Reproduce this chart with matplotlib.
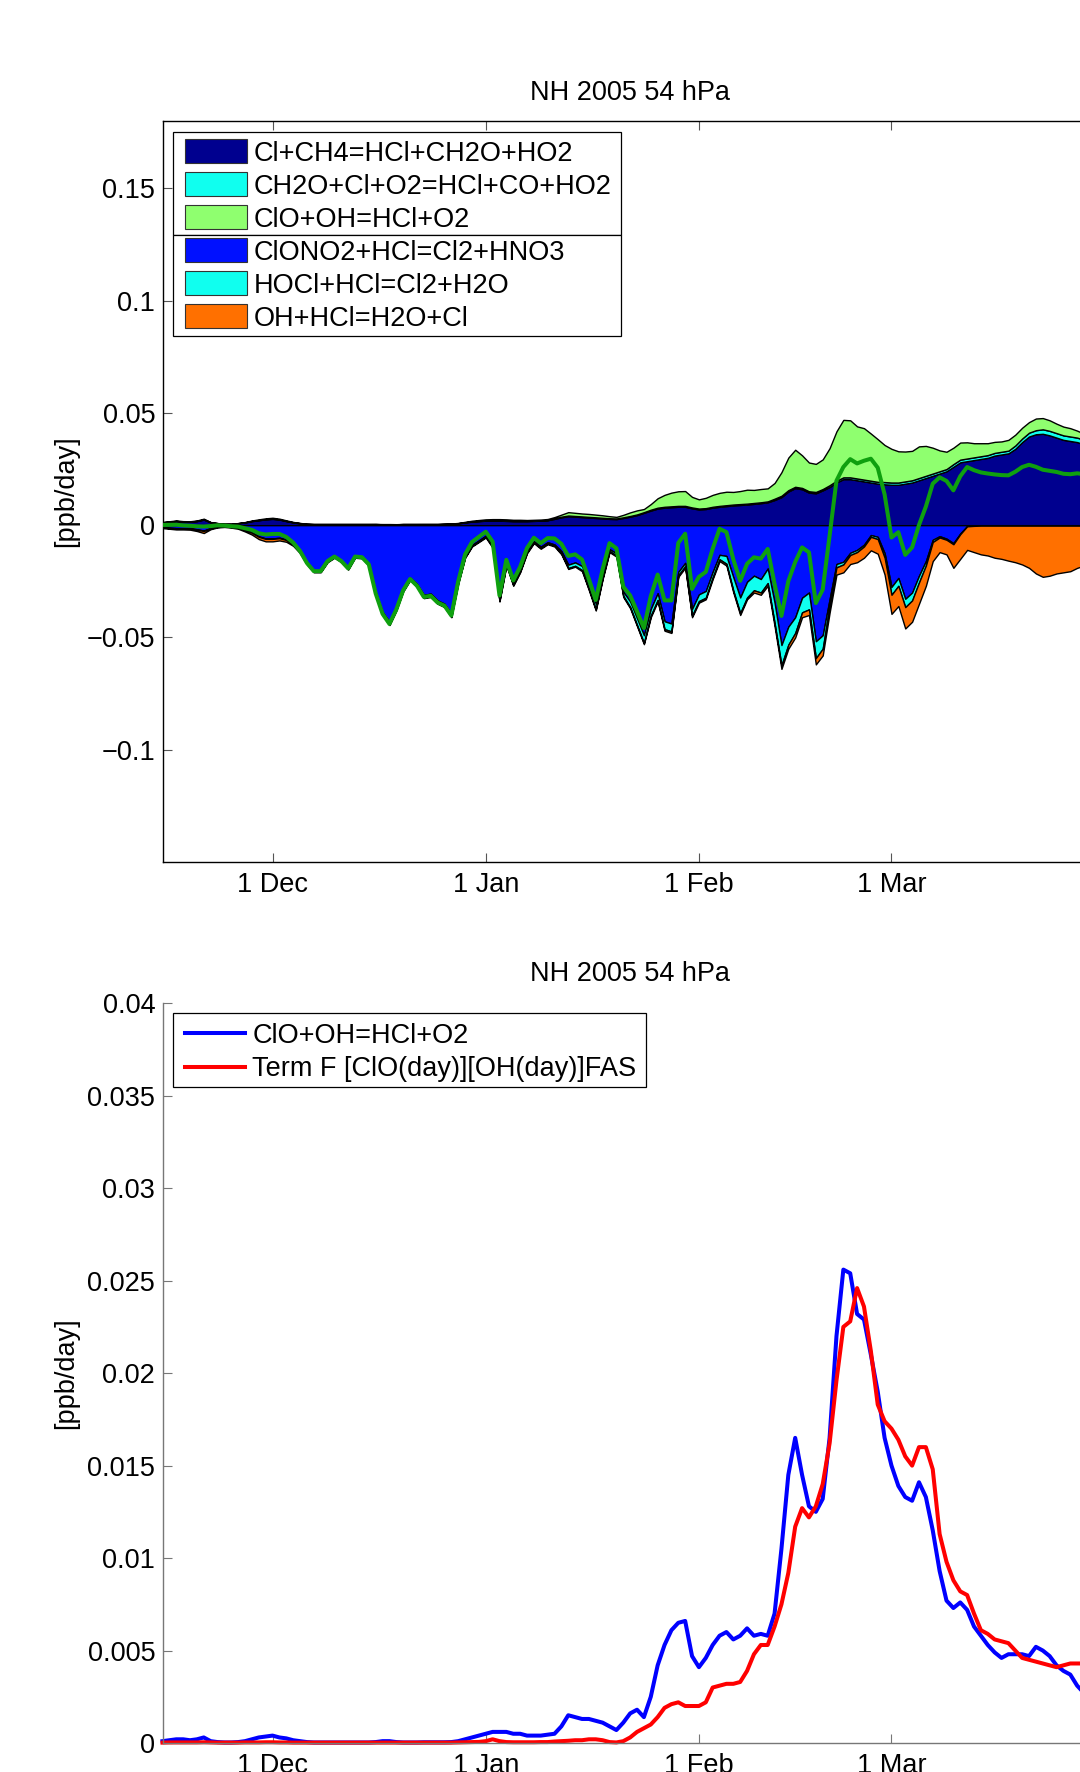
import numpy as np
import pandas as pd
import matplotlib
matplotlib.use("Agg")
import matplotlib.pyplot as plt
from matplotlib.patches import Rectangle
from matplotlib.lines import Line2D

plt.rcParams['font.family'] = ['Liberation Sans', 'DejaVu Sans']
plt.rcParams['axes.unicode_minus'] = True

# ---------------- data (daily, 15 Nov 2004 .. 31 Mar 2005) ----------------
dates = pd.date_range('2004-11-15', '2005-03-31', freq='D')

# HCl production terms [ppb/day]
cl_ch4 = [
    0.0012, 0.0015, 0.0018, 0.0015, 0.0015, 0.0018, 0.0025, 0.0012, 0.0008, 0.0005,
    0.0005, 0.0008, 0.0012, 0.0018, 0.0022, 0.0026, 0.0028, 0.0025, 0.0018, 0.0012,
    0.0008, 0.0005, 0.0004, 0.0004, 0.0004, 0.0004, 0.0004, 0.0004, 0.0004, 0.0004,
    0.0004, 0.0004, 0.0003, 0.0003, 0.0003, 0.0004, 0.0004, 0.0004, 0.0004, 0.0004,
    0.0004, 0.0005, 0.0006, 0.0008, 0.0012, 0.0016, 0.0018, 0.0020, 0.0020, 0.0020,
    0.0019, 0.0018, 0.0018, 0.0018, 0.0019, 0.0020, 0.0022, 0.0028, 0.0035, 0.0040,
    0.0038, 0.0036, 0.0034, 0.0032, 0.0030, 0.0028, 0.0027, 0.0032, 0.0038, 0.0045,
    0.0055, 0.0065, 0.0074, 0.0078, 0.0080, 0.0082, 0.0082, 0.0075, 0.0070, 0.0072,
    0.0078, 0.0082, 0.0085, 0.0088, 0.0090, 0.0092, 0.0095, 0.0098, 0.0102, 0.0112,
    0.0125, 0.0150, 0.0165, 0.0160, 0.0145, 0.0142, 0.0155, 0.0170, 0.0190, 0.0205,
    0.0205, 0.0200, 0.0195, 0.0190, 0.0185, 0.0182, 0.0180, 0.0180, 0.0185, 0.0190,
    0.0200, 0.0210, 0.0220, 0.0230, 0.0240, 0.0260, 0.0280, 0.0285, 0.0290, 0.0295,
    0.0300, 0.0310, 0.0315, 0.0320, 0.0340, 0.0370, 0.0395, 0.0405, 0.0407, 0.0400,
    0.0390, 0.0380, 0.0375, 0.0370, 0.0360, 0.0355, 0.0350]

ch2o_cl = [
    0.0001, 0.0001, 0.0001, 0.0001, 0.0001, 0.0001, 0.0001, 0.0001, 0.0001, 0.0001,
    0.0001, 0.0001, 0.0001, 0.0001, 0.0001, 0.0001, 0.0001, 0.0001, 0.0001, 0.0001,
    0.0001, 0.0001, 0.0001, 0.0001, 0.0001, 0.0001, 0.0001, 0.0001, 0.0001, 0.0001,
    0.0001, 0.0001, 0.0001, 0.0001, 0.0001, 0.0001, 0.0001, 0.0001, 0.0001, 0.0001,
    0.0001, 0.0001, 0.0001, 0.0001, 0.0001, 0.0001, 0.0001, 0.0001, 0.0001, 0.0001,
    0.0001, 0.0001, 0.0001, 0.0001, 0.0001, 0.0001, 0.0001, 0.0003, 0.0003, 0.0003,
    0.0003, 0.0003, 0.0003, 0.0003, 0.0003, 0.0003, 0.0003, 0.0003, 0.0003, 0.0003,
    0.0003, 0.0004, 0.0004, 0.0004, 0.0004, 0.0004, 0.0004, 0.0004, 0.0004, 0.0004,
    0.0004, 0.0004, 0.0004, 0.0004, 0.0004, 0.0004, 0.0004, 0.0004, 0.0004, 0.0006,
    0.0006, 0.0006, 0.0006, 0.0006, 0.0006, 0.0006, 0.0006, 0.0008, 0.0008, 0.0008,
    0.0008, 0.0008, 0.0008, 0.0008, 0.0008, 0.0010, 0.0010, 0.0010, 0.0010, 0.0010,
    0.0010, 0.0010, 0.0010, 0.0010, 0.0010, 0.0012, 0.0012, 0.0012, 0.0012, 0.0012,
    0.0012, 0.0012, 0.0012, 0.0012, 0.0015, 0.0016, 0.0017, 0.0018, 0.0020, 0.0020,
    0.0020, 0.0020, 0.0020, 0.0020, 0.0020, 0.0020, 0.0020]

clo_oh = [
    0.00010, 0.00015, 0.00020, 0.00020, 0.00015, 0.00020, 0.00030, 0.00010, 0.00005, 0.00003,
    0.00003, 0.00005, 0.00010, 0.00020, 0.00030, 0.00035, 0.00040, 0.00030, 0.00025, 0.00015,
    0.00010, 0.00005, 0.00003, 0.00003, 0.00003, 0.00003, 0.00003, 0.00003, 0.00003, 0.00003,
    0.00003, 0.00005, 0.00010, 0.00010, 0.00005, 0.00003, 0.00003, 0.00003, 0.00004, 0.00004,
    0.00004, 0.00004, 0.00005, 0.00010, 0.00020, 0.00030, 0.00040, 0.00050, 0.00060, 0.00060,
    0.00060, 0.00050, 0.00050, 0.00040, 0.00040, 0.00040, 0.00045, 0.00050, 0.00090, 0.00150,
    0.00140, 0.00130, 0.00130, 0.00120, 0.00110, 0.00090, 0.00070, 0.00110, 0.00160, 0.00180,
    0.00140, 0.00250, 0.00420, 0.00530, 0.00610, 0.00650, 0.00660, 0.00470, 0.00410, 0.00460,
    0.00530, 0.00580, 0.00600, 0.00560, 0.00580, 0.00620, 0.00580, 0.00590, 0.00580, 0.00700,
    0.01050, 0.01450, 0.01650, 0.01450, 0.01280, 0.01250, 0.01320, 0.01650, 0.02200, 0.02560,
    0.02540, 0.02320, 0.02290, 0.02100, 0.01900, 0.01650, 0.01500, 0.01390, 0.01330, 0.01310,
    0.01410, 0.01330, 0.01150, 0.00930, 0.00770, 0.00730, 0.00760, 0.00720, 0.00630, 0.00580,
    0.00530, 0.00490, 0.00460, 0.00480, 0.00480, 0.00480, 0.00470, 0.00520, 0.00500, 0.00470,
    0.00420, 0.00390, 0.00370, 0.00310, 0.00270, 0.00240, 0.00220]

# HCl loss terms [ppb/day]
clono2_hcl = [
    -0.0008, -0.0011, -0.0013, -0.0013, -0.0013, -0.0018, -0.0024, -0.0012, -0.0006, -0.0005,
    -0.0007, -0.0010, -0.0020, -0.0032, -0.0050, -0.0059, -0.0059, -0.0056, -0.0064, -0.0084,
    -0.0117, -0.0168, -0.0204, -0.0204, -0.0159, -0.0139, -0.0159, -0.0192, -0.0139, -0.0142,
    -0.0173, -0.0299, -0.0387, -0.0430, -0.0367, -0.0284, -0.0234, -0.0262, -0.0310, -0.0305,
    -0.0335, -0.0350, -0.0395, -0.0249, -0.0137, -0.0088, -0.0068, -0.0047, -0.0090, -0.0324,
    -0.0168, -0.0256, -0.0198, -0.0115, -0.0071, -0.0096, -0.0076, -0.0086, -0.0116, -0.0176,
    -0.0166, -0.0182, -0.0263, -0.0350, -0.0220, -0.0107, -0.0125, -0.0297, -0.0340, -0.0415,
    -0.0490, -0.0373, -0.0303, -0.0428, -0.0438, -0.0208, -0.0168, -0.0373, -0.0308, -0.0293,
    -0.0208, -0.0132, -0.0137, -0.0232, -0.0322, -0.0252, -0.0225, -0.0240, -0.0193, -0.0346,
    -0.0534, -0.0452, -0.0410, -0.0323, -0.0300, -0.0517, -0.0490, -0.0330, -0.0173, -0.0163,
    -0.0123, -0.0110, -0.0087, -0.0044, -0.0052, -0.0125, -0.0275, -0.0235, -0.0328, -0.0300,
    -0.0225, -0.0160, -0.0065, -0.0049, -0.0060, -0.0080, -0.0037, -0.0004, -0.0002, -0.0001,
    -0.0001, -0.0001, -0.0001, -0.0001, -0.0001, -0.0001, -0.0001, -0.0001, -0.0001, -0.0001,
    -0.0001, -0.0001, -0.0001, -0.0001, -0.0001, -0.0001, -0.0001]

hocl_hcl = [
    -0.0002, -0.0002, -0.0002, -0.0002, -0.0002, -0.0002, -0.0002, -0.0002, -0.0002, -0.0001,
    -0.0001, -0.0002, -0.0002, -0.0002, -0.0002, -0.0002, -0.0002, -0.0002, -0.0002, -0.0002,
    -0.0003, -0.0003, -0.0003, -0.0003, -0.0003, -0.0003, -0.0003, -0.0003, -0.0003, -0.0003,
    -0.0004, -0.0008, -0.0010, -0.0012, -0.0010, -0.0008, -0.0008, -0.0010, -0.0012, -0.0012,
    -0.0012, -0.0012, -0.0012, -0.0008, -0.0005, -0.0004, -0.0004, -0.0004, -0.0006, -0.0012,
    -0.0008, -0.0010, -0.0008, -0.0006, -0.0005, -0.0005, -0.0005, -0.0005, -0.0010, -0.0015,
    -0.0015, -0.0018, -0.0022, -0.0025, -0.0015, -0.0008, -0.0010, -0.0018, -0.0025, -0.0030,
    -0.0035, -0.0030, -0.0030, -0.0035, -0.0035, -0.0015, -0.0015, -0.0030, -0.0030, -0.0030,
    -0.0025, -0.0020, -0.0035, -0.0060, -0.0070, -0.0070, -0.0065, -0.0060, -0.0065, -0.0090,
    -0.0090, -0.0080, -0.0070, -0.0065, -0.0075, -0.0075, -0.0060, -0.0030, -0.0015, -0.0012,
    -0.0010, -0.0010, -0.0008, -0.0008, -0.0010, -0.0020, -0.0035, -0.0035, -0.0037, -0.0035,
    -0.0030, -0.0020, -0.0010, -0.0006, -0.0005, -0.0005, -0.0003, -0.0001, -0.0001, -0.0001,
    -0.0001, -0.0001, -0.0001, -0.0001, -0.0001, -0.0001, -0.0001, -0.0001, -0.0001, -0.0001,
    -0.0001, -0.0001, -0.0001, -0.0001, -0.0001, -0.0001, -0.0001]

oh_hcl = [
    -0.0003, -0.0003, -0.0004, -0.0004, -0.0005, -0.0006, -0.0009, -0.0004, -0.0002, -0.0002,
    -0.0003, -0.0004, -0.0006, -0.0008, -0.0010, -0.0011, -0.0011, -0.0010, -0.0008, -0.0006,
    -0.0005, -0.0004, -0.0003, -0.0003, -0.0003, -0.0003, -0.0003, -0.0003, -0.0003, -0.0003,
    -0.0003, -0.0003, -0.0003, -0.0003, -0.0003, -0.0003, -0.0003, -0.0003, -0.0003, -0.0003,
    -0.0003, -0.0003, -0.0003, -0.0003, -0.0003, -0.0003, -0.0003, -0.0004, -0.0004, -0.0004,
    -0.0004, -0.0004, -0.0004, -0.0004, -0.0004, -0.0004, -0.0004, -0.0004, -0.0004, -0.0004,
    -0.0004, -0.0005, -0.0005, -0.0005, -0.0005, -0.0005, -0.0005, -0.0005, -0.0005, -0.0005,
    -0.0005, -0.0007, -0.0007, -0.0007, -0.0007, -0.0007, -0.0007, -0.0007, -0.0007, -0.0007,
    -0.0007, -0.0008, -0.0008, -0.0008, -0.0008, -0.0008, -0.0010, -0.0010, -0.0012, -0.0014,
    -0.0016, -0.0018, -0.0020, -0.0022, -0.0025, -0.0028, -0.0030, -0.0030, -0.0032, -0.0035,
    -0.0040, -0.0045, -0.0050, -0.0060, -0.0065, -0.0075, -0.0085, -0.0090, -0.0095, -0.0095,
    -0.0095, -0.0090, -0.0085, -0.0065, -0.0065, -0.0105, -0.0110, -0.0105, -0.0117, -0.0128,
    -0.0133, -0.0143, -0.0148, -0.0156, -0.0163, -0.0173, -0.0188, -0.0213, -0.0228, -0.0223,
    -0.0213, -0.0208, -0.0203, -0.0188, -0.0178, -0.0173, -0.0168]

# Term F [ClO(day)][OH(day)]FAS
term_f = [
    0.00002, 0.00003, 0.00003, 0.00003, 0.00003, 0.00003, 0.00004, 0.00003, 0.00002, 0.00002,
    0.00002, 0.00002, 0.00003, 0.00003, 0.00003, 0.00004, 0.00004, 0.00003, 0.00003, 0.00002,
    0.00002, 0.00002, 0.00002, 0.00002, 0.00002, 0.00002, 0.00002, 0.00002, 0.00002, 0.00002,
    0.00002, 0.00002, 0.00002, 0.00002, 0.00002, 0.00002, 0.00002, 0.00002, 0.00002, 0.00002,
    0.00002, 0.00002, 0.00002, 0.00003, 0.00004, 0.00005, 0.00006, 0.00010, 0.00020, 0.00010,
    0.00005, 0.00004, 0.00004, 0.00004, 0.00004, 0.00005, 0.00005, 0.00008, 0.00010, 0.00012,
    0.00015, 0.00015, 0.00020, 0.00020, 0.00015, 0.00005, 0.00003, 0.00010, 0.00030, 0.00060,
    0.00080, 0.00100, 0.00140, 0.00190, 0.00210, 0.00220, 0.00200, 0.00200, 0.00200, 0.00220,
    0.00300, 0.00310, 0.00320, 0.00320, 0.00330, 0.00390, 0.00480, 0.00530, 0.00530, 0.00630,
    0.00750, 0.00920, 0.01170, 0.01270, 0.01220, 0.01280, 0.01400, 0.01620, 0.01960, 0.02250,
    0.02280, 0.02460, 0.02360, 0.02120, 0.01830, 0.01740, 0.01700, 0.01640, 0.01550, 0.01500,
    0.01600, 0.01600, 0.01480, 0.01130, 0.00980, 0.00880, 0.00820, 0.00800, 0.00700, 0.00610,
    0.00590, 0.00560, 0.00550, 0.00540, 0.00500, 0.00460, 0.00450, 0.00440, 0.00430, 0.00420,
    0.00410, 0.00420, 0.00430, 0.00430, 0.00430, 0.00430, 0.00430]

prod_labels = ['Cl+CH4=HCl+CH2O+HO2', 'CH2O+Cl+O2=HCl+CO+HO2', 'ClO+OH=HCl+O2']
loss_labels = ['ClONO2+HCl=Cl2+HNO3', 'HOCl+HCl=Cl2+H2O', 'OH+HCl=H2O+Cl']
line_labels = ['ClO+OH=HCl+O2', 'Term F [ClO(day)][OH(day)]FAS']
title_text = 'NH 2005 54 hPa'
ylabel_text = '[ppb/day]'
tick_dates = pd.to_datetime(['2004-12-01', '2005-01-01', '2005-02-01', '2005-03-01'])
tick_labels = ['1 Dec', '1 Jan', '1 Feb', '1 Mar']
yticks_top = [-0.1, -0.05, 0, 0.05, 0.1, 0.15]
yticks_top_labels = ['\u22120.1', '\u22120.05', '0', '0.05', '0.1', '0.15']
yticks_bot = [0, 0.005, 0.01, 0.015, 0.02, 0.025, 0.03, 0.035, 0.04]
yticks_bot_labels = ['0', '0.005', '0.01', '0.015', '0.02', '0.025', '0.03', '0.035', '0.04']

# ---------------- style ----------------
FS = 19.5
LW = 2.9
W, H = 1080, 1772
c_navy, c_cyan, c_lgreen = '#00008F', '#10FFEF', '#8FFF6F'
c_blue, c_orange = '#0010FF', '#FF7000'
c_net = '#0FA00F'

fig = plt.figure(figsize=(W / 100, H / 100), dpi=100)


def fx(x):
    return x / W


def fy(y):
    return 1 - y / H


ax_left = 162.5 / W
ax_width = 935.3 / W

# ---------------- top panel ----------------
ax1 = fig.add_axes([ax_left, (H - 862) / H, ax_width, 741 / H])
pos = ax1.stackplot(dates, cl_ch4, ch2o_cl, clo_oh,
                    colors=[c_navy, c_cyan, c_lgreen], edgecolor='k', linewidth=1.0)
neg = ax1.stackplot(dates, clono2_hcl, hocl_hcl, oh_hcl,
                    colors=[c_blue, c_cyan, c_orange], edgecolor='k', linewidth=1.0)
net = (np.array(cl_ch4) + np.array(ch2o_cl) + np.array(clo_oh)
       + np.array(clono2_hcl) + np.array(hocl_hcl) + np.array(oh_hcl))
ax1.plot(dates, net, color=c_net, lw=LW, zorder=5)

ax1.set_xlim(dates[0], dates[-1])
ax1.set_ylim(-0.15, 0.18)
ax1.set_xticks(tick_dates)
ax1.set_xticklabels(tick_labels)
ax1.set_yticks(yticks_top)
ax1.set_yticklabels(yticks_top_labels)
ax1.tick_params(direction='in', length=6.7, width=0.8, color='#555555',
                labelsize=FS, top=True, right=True)
ax1.tick_params(axis='y', pad=5.3)
ax1.tick_params(axis='x', pad=6.9)
for s in ax1.spines.values():
    s.set_linewidth(1.0)
    s.set_color('black')
ax1.set_title(title_text, fontsize=FS, pad=15.3)
ax1.set_ylabel(ylabel_text, fontsize=FS)
ax1.yaxis.set_label_coords(-0.0893, 0.5)


# legend boxes (drawn in figure pixels)
def add_box(x0, y0, x1, y1):
    fig.add_artist(Rectangle((fx(x0), fy(y1)), (x1 - x0) / W, (y1 - y0) / H,
                             transform=fig.transFigure, facecolor='white',
                             edgecolor='black', linewidth=0.9, zorder=10))


def add_patch_entry(yc, color, label):
    fig.add_artist(Rectangle((fx(185), fy(yc + 12.2)), 61.7 / W, 24.4 / H,
                             transform=fig.transFigure, facecolor=color,
                             edgecolor='#333333', linewidth=0.8, zorder=11))
    fig.text(fx(253.3), fy(yc + 9.7), label, fontsize=FS, va='baseline',
             ha='left', zorder=12)


def add_line_entry(yc, color, label):
    fig.add_artist(Line2D([fx(185), fx(245)], [fy(yc), fy(yc)],
                          transform=fig.transFigure, color=color, lw=LW, zorder=11))
    fig.text(fx(252.3), fy(yc + 9.7), label, fontsize=FS, va='baseline',
             ha='left', zorder=12)


add_box(172.7, 131.7, 621.3, 235.0)
add_box(172.7, 235.0, 621.3, 335.5)
row_y = [151.2, 184.2, 217.2, 250.2, 283.2, 316.2]
for yc, poly, lab in zip(row_y, list(pos) + list(neg), prod_labels + loss_labels):
    add_patch_entry(yc, poly.get_facecolor()[0], lab)

# ---------------- bottom panel ----------------
ax2 = fig.add_axes([ax_left, (H - 1743) / H, ax_width, 739.7 / H])
l1, = ax2.plot(dates, clo_oh, color='#0000FF', lw=LW, clip_on=False)
l2, = ax2.plot(dates, term_f, color='#FF0000', lw=LW, clip_on=False)
ax2.set_xlim(dates[0], dates[-1])
ax2.set_ylim(0, 0.04)
ax2.set_xticks(tick_dates)
ax2.set_xticklabels(tick_labels)
ax2.set_yticks(yticks_bot)
ax2.set_yticklabels(yticks_bot_labels)
ax2.spines['top'].set_visible(False)
ax2.spines['right'].set_visible(False)
for s in ('left', 'bottom'):
    ax2.spines[s].set_color('#777777')
    ax2.spines[s].set_linewidth(1.0)
ax2.tick_params(direction='in', length=6.7, width=0.8, color='#777777', labelsize=FS)
ax2.tick_params(axis='y', pad=5.3)
ax2.tick_params(axis='x', pad=6.9)
ax2.set_title(title_text, fontsize=FS, pad=15.9)
ax2.set_ylabel(ylabel_text, fontsize=FS)
ax2.yaxis.set_label_coords(-0.0893, 0.5)

add_box(172.7, 1013.3, 646.2, 1086.7)
for yc, ln, lab in zip([1033.3, 1066.7], [l1, l2], line_labels):
    add_line_entry(yc, ln.get_color(), lab)

fig.savefig('out.png', dpi=100)
